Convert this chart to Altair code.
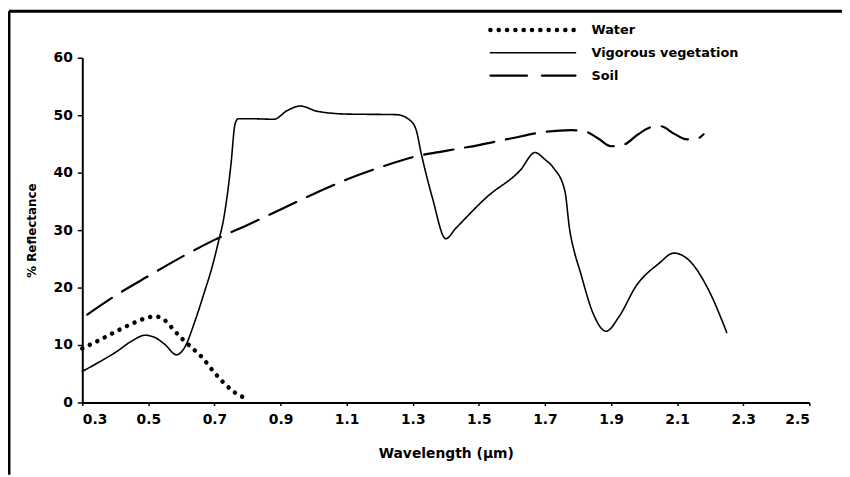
import altair as alt
import pandas as pd

# ---- data ----
series_names = ["Water", "Vigorous vegetation", "Soil"]

water_x = [0.30, 0.35, 0.40, 0.45, 0.50, 0.52, 0.55, 0.58, 0.60, 0.63, 0.66, 0.70, 0.73, 0.76, 0.80]
water_y = [9.4, 10.8, 12.3, 13.7, 14.8, 15.0, 14.3, 12.4, 11.2, 9.6, 8.0, 5.2, 3.3, 1.8, 0.6]

veg_x = [0.30, 0.35, 0.40, 0.45, 0.49, 0.52, 0.55, 0.585, 0.61, 0.64, 0.67, 0.69, 0.71, 0.73,
         0.75, 0.762, 0.772, 0.80, 0.88, 0.92, 0.96, 1.01, 1.10, 1.25, 1.29, 1.31, 1.325, 1.36,
         1.40, 1.43, 1.525, 1.625, 1.67, 1.70, 1.725, 1.76, 1.775, 1.79, 1.805, 1.845, 1.885,
         1.925, 1.975, 2.045, 2.09, 2.135, 2.195, 2.25]
veg_y = [5.4, 7.0, 8.7, 10.7, 11.7, 11.3, 10.1, 8.3, 9.6, 14.0, 19.3, 23.0, 27.5, 32.7,
         41.5, 48.4, 49.4, 49.4, 49.3, 50.8, 51.6, 50.7, 50.2, 50.1, 49.2, 47.5, 43.5, 35.5,
         28.5, 30.3, 35.8, 40.4, 43.5, 42.3, 40.9, 36.9, 30.0, 26.0, 23.1, 15.6, 12.4,
         15.0, 20.2, 24.2, 26.0, 24.8, 19.6, 12.2]

soil_x = [0.315, 0.40, 0.50, 0.60, 0.70, 0.80, 0.90, 1.00, 1.10, 1.20, 1.30, 1.40, 1.50, 1.60,
          1.70, 1.78, 1.82, 1.86, 1.90, 1.94, 1.98, 2.02, 2.05, 2.09, 2.13, 2.16, 2.18]
soil_y = [15.3, 18.6, 22.0, 25.3, 28.3, 30.9, 33.6, 36.3, 38.8, 40.9, 42.7, 43.8, 44.8, 46.0,
          47.1, 47.4, 47.2, 46.0, 44.6, 44.9, 46.6, 47.9, 48.1, 46.8, 45.8, 45.9, 46.7]

x_ticks = [0.3, 0.5, 0.7, 0.9, 1.1, 1.3, 1.5, 1.7, 1.9, 2.1, 2.3, 2.5]
y_ticks = [0, 10, 20, 30, 40, 50, 60]

# line styles per series (style, not data)
dash_styles = [[0.1, 8.3], [1, 0], [30, 12]]
legend_dash_styles = [[0.1, 8.3], [1, 0], [37, 15]]
width_styles = [4.5, 1.6, 2.2]

rows = []
for name, xs, ys in zip(series_names, [water_x, veg_x, soil_x], [water_y, veg_y, soil_y]):
    for i, (xv, yv) in enumerate(zip(xs, ys)):
        rows.append({"series": name, "wl": xv, "refl": yv, "order": i})
df = pd.DataFrame(rows)

FONT = "DejaVu Sans"

lines = alt.Chart(df).mark_line(color="black", interpolate="monotone", strokeCap="round").encode(
    x=alt.X("wl:Q",
            scale=alt.Scale(domain=[0.3, 2.5], nice=False, zero=False),
            axis=alt.Axis(values=x_ticks, format=".1f", title="Wavelength (μm)",
                          titlePadding=21, titleFontSize=14, tickSize=3, labelPadding=7)),
    y=alt.Y("refl:Q",
            scale=alt.Scale(domain=[0, 60], nice=False),
            axis=alt.Axis(values=y_ticks, title="% Reflectance", titlePadding=15,
                          titleFontSize=12)),
    strokeDash=alt.StrokeDash("series:N",
                              scale=alt.Scale(domain=series_names, range=dash_styles),
                              legend=None),
    strokeWidth=alt.StrokeWidth("series:N",
                                scale=alt.Scale(type="ordinal", domain=series_names,
                                                range=width_styles),
                                legend=None),
    order="order:Q",
)

# ---- legend (drawn as decoration, top right) ----
one = alt.Data(values=[{"k": 1}])
legend_layers = []
for i, name in enumerate(series_names):
    yy = -28 + 23 * i
    legend_layers.append(
        alt.Chart(one).mark_rule(color="black", strokeCap="round",
                                 strokeDash=legend_dash_styles[i],
                                 strokeWidth=width_styles[i]).encode(
            x=alt.value(412), x2=alt.value(498), y=alt.value(yy)))
    legend_layers.append(
        alt.Chart(one).mark_text(align="left", baseline="middle", font=FONT,
                                 fontSize=13, fontWeight="bold", color="black").encode(
            x=alt.value(514), y=alt.value(yy), text=alt.value(name)))

# ---- picture frame ----
frame_left = alt.Chart(one).mark_rule(color="black", strokeWidth=3).encode(
    x=alt.value(-74), y=alt.value(-47), y2=alt.value(421))
frame_top = alt.Chart(one).mark_rule(color="black", strokeWidth=3).encode(
    x=alt.value(-74), x2=alt.value(767), y=alt.value(-47))

chart = alt.layer(lines, *legend_layers, frame_left, frame_top).properties(
    width=734,
    height=348,
    autosize=alt.AutoSizeParams(type="none"),
    padding={"left": 75, "top": 48, "right": 33, "bottom": 73},
    background="white",
).configure_view(
    stroke=None
).configure_axis(
    grid=False,
    domainColor="black",
    domainWidth=2,
    tickColor="black",
    tickWidth=1.5,
    tickSize=5,
    labelPadding=5,
    labelFont=FONT,
    labelFontSize=14,
    labelFontWeight="bold",
    labelColor="black",
    titleFont=FONT,
    titleFontWeight="bold",
    titleColor="black",
)

chart.save("out.html", embed_options={"renderer": "svg", "actions": False})
